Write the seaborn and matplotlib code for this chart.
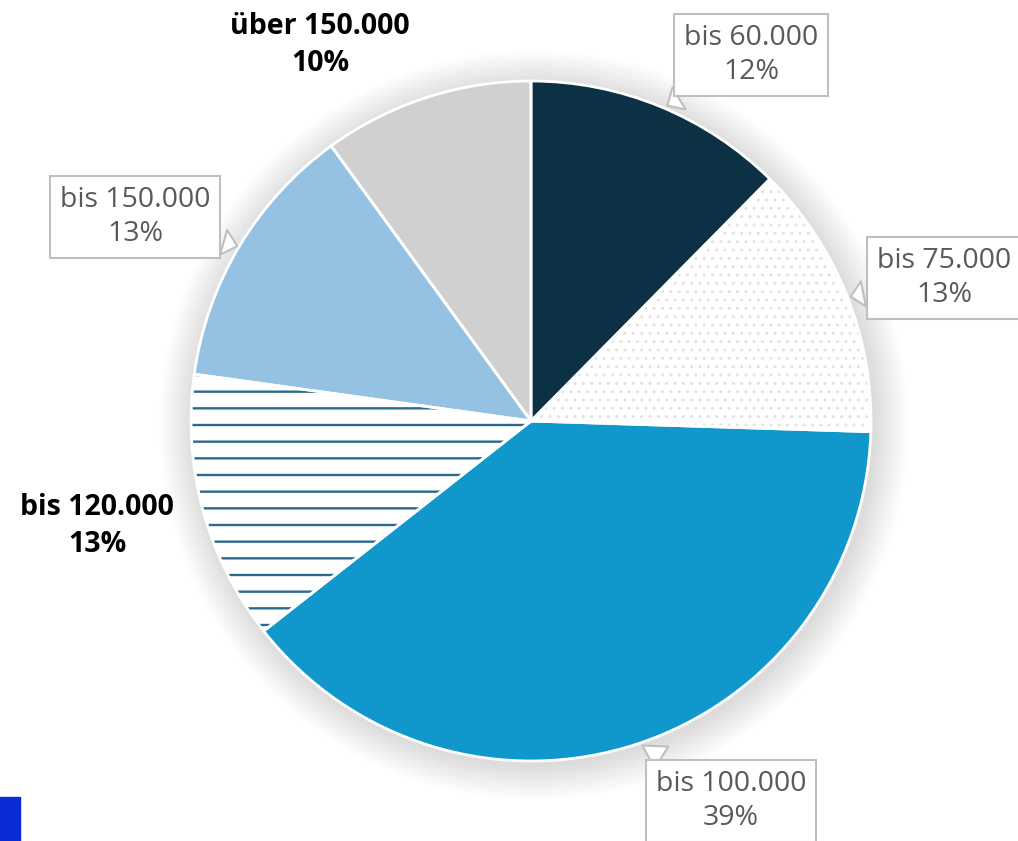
import matplotlib
matplotlib.use("Agg")
import matplotlib.pyplot as plt
import seaborn as sns
from matplotlib.patches import Circle, Rectangle

sns.set_theme(style="white")
plt.rcParams['font.family'] = ['Open Sans', 'DejaVu Sans']

categories = ["bis 60.000", "bis 75.000", "bis 100.000", "bis 120.000", "bis 150.000", "über 150.000"]
values = [12.4, 13.1, 38.9, 12.8, 12.8, 10.0]
colors = ["#0c3044", "#ffffff", "#1098cc", "#ffffff", "#95c1e3", "#d0d0d0"]
hatches = [None, "..", None, "-", None, None]
hatch_colors = [None, "#e2e2e2", None, "#2a6a8c", None, None]
hatch_lws = [None, 1.0, None, 1.7, None, None]

W, H = 1018, 841
fig = plt.figure(figsize=(W / 100, H / 100), dpi=100)
ax = fig.add_axes([0, 0, 1, 1])
ax.set_xlim(0, W)
ax.set_ylim(0, H)

cx, cy, R = 531, H - 421, 340

# soft shadow
for k in range(1, 36):
    ax.add_patch(Circle((cx + 3, cy - 4), R + k, color="#000000", alpha=0.0055, lw=0, zorder=0))

wedges, _ = ax.pie(values, colors=colors, startangle=90, counterclock=False,
                   center=(cx, cy), radius=R, frame=True,
                   wedgeprops=dict(linewidth=0))
for w, h, hc, hl in zip(wedges, hatches, hatch_colors, hatch_lws):
    w.set_zorder(2)
    if h:
        w.set_hatch(h)
        w.set_edgecolor(hc)
        w.set_linewidth(0)
        if hasattr(w, "set_hatch_linewidth"):
            w.set_hatch_linewidth(hl)
# white separators
w2, _ = ax.pie(values, colors=["none"] * len(values), startangle=90, counterclock=False,
               center=(cx, cy), radius=R, frame=True,
               wedgeprops=dict(linewidth=2, edgecolor="white", fill=False))
for w in w2:
    w.set_zorder(3)

ax.set_xlim(0, W)
ax.set_ylim(0, H)
ax.set_aspect("equal")
ax.axis("off")

pct = [f"{round(v)}%" for v in values]
FS = 20.5
LS = 1.32

def callout(i, tx, ty, px, py):
    ax.annotate(f"{categories[i]}\n{pct[i]}", xy=(px, H - py), xytext=(tx, H - ty),
                ha="center", va="center", fontsize=FS, color="#595959", linespacing=LS,
                bbox=dict(boxstyle="square,pad=0.35", fc="white", ec="#bfbfbf", lw=1.5),
                arrowprops=dict(arrowstyle="wedge,tail_width=0.9,shrink_factor=0.5",
                                fc="white", ec="#bfbfbf", lw=1.5),
                zorder=5)

callout(0, 751, 55, 665, 107)
callout(1, 944, 278, 848, 297)
callout(2, 731, 801, 640, 744)
callout(4, 135, 217, 240, 247)

ax.text(320, H - 45, f"{categories[5]}\n{pct[5]}", ha="center", va="center",
        fontsize=FS, fontweight="bold", color="black", linespacing=LS, zorder=5)
ax.text(97, H - 526, f"{categories[3]}\n{pct[3]}", ha="center", va="center",
        fontsize=FS, fontweight="bold", color="black", linespacing=LS, zorder=5)

fig.patches.append(Rectangle((0, 0), 20 / W, 44 / H, transform=fig.transFigure,
                             color="#0a2bd6", zorder=10))

fig.savefig("out.png", dpi=100)
